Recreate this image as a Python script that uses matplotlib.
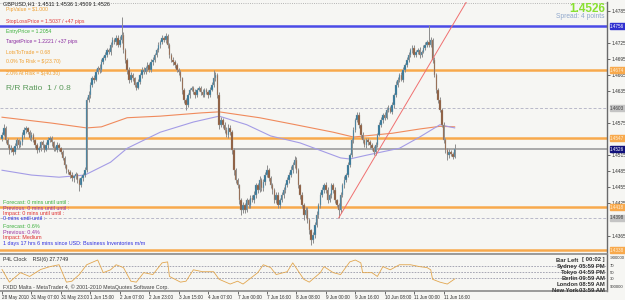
import matplotlib
matplotlib.use('Agg')
import matplotlib.pyplot as plt
import numpy as np

plt.rcParams['font.family'] = ['Liberation Sans', 'DejaVu Sans']

# ---------------- data ----------------
closes = [
    1.4553, 1.4566, 1.4543, 1.4534, 1.4525, 1.4528, 1.4521, 1.4532, 1.4543, 1.4534,
    1.4539, 1.4553, 1.4562, 1.4566, 1.4558, 1.4547, 1.4553, 1.4543, 1.4534, 1.4525,
    1.4528, 1.4539, 1.4534, 1.4525, 1.4534, 1.4543, 1.4547, 1.4539, 1.4528, 1.4525,
    1.4534, 1.4528, 1.4521, 1.4510, 1.4497, 1.4487, 1.4484, 1.4478, 1.4472, 1.4476,
    1.4480, 1.4469, 1.4459, 1.4472, 1.4478, 1.4487, 1.4618, 1.4627, 1.4646, 1.4659,
    1.4656, 1.4670, 1.4678, 1.4674, 1.4689, 1.4697, 1.4702, 1.4711, 1.4708, 1.4721,
    1.4730, 1.4726, 1.4734, 1.4721, 1.4730, 1.4739, 1.4711, 1.4693, 1.4674, 1.4656,
    1.4665, 1.4659, 1.4646, 1.4641, 1.4652, 1.4665, 1.4674, 1.4670, 1.4678, 1.4684,
    1.4674, 1.4689, 1.4693, 1.4702, 1.4711, 1.4721, 1.4726, 1.4734, 1.4730, 1.4737,
    1.4721, 1.4702, 1.4693, 1.4689, 1.4684, 1.4674, 1.4670, 1.4659, 1.4637, 1.4618,
    1.4609, 1.4627, 1.4637, 1.4641, 1.4633, 1.4627, 1.4637, 1.4641, 1.4633, 1.4627,
    1.4637, 1.4633, 1.4627, 1.4637, 1.4646, 1.4659, 1.4665, 1.4627, 1.4572, 1.4581,
    1.4572, 1.4562, 1.4553, 1.4566, 1.4558, 1.4525, 1.4487, 1.4469, 1.4459, 1.4431,
    1.4413, 1.4422, 1.4413, 1.4431, 1.4422, 1.4435, 1.4431, 1.4441, 1.4459, 1.4450,
    1.4469, 1.4454, 1.4465, 1.4478, 1.4487, 1.4472, 1.4459, 1.4450, 1.4431, 1.4441,
    1.4422, 1.4431, 1.4441, 1.4450, 1.4459, 1.4469, 1.4478, 1.4487, 1.4497, 1.4506,
    1.4487, 1.4459, 1.4441, 1.4422, 1.4403, 1.4413, 1.4394, 1.4375, 1.4357, 1.4366,
    1.4385, 1.4403, 1.4422, 1.4441, 1.4450, 1.4459, 1.4450, 1.4431, 1.4441, 1.4459,
    1.4450, 1.4431, 1.4422, 1.4413, 1.4441, 1.4459, 1.4469, 1.4478, 1.4497, 1.4515,
    1.4543, 1.4562, 1.4581, 1.4590, 1.4572, 1.4553, 1.4543, 1.4534, 1.4543, 1.4539,
    1.4534, 1.4528, 1.4521, 1.4534, 1.4553, 1.4572, 1.4581, 1.4590, 1.4585, 1.4599,
    1.4603, 1.4596, 1.4609, 1.4627, 1.4646, 1.4656, 1.4665, 1.4656, 1.4674, 1.4684,
    1.4693, 1.4702, 1.4711, 1.4715, 1.4702, 1.4708, 1.4711, 1.4702, 1.4708, 1.4715,
    1.4721, 1.4726, 1.4721, 1.4730, 1.4693, 1.4665, 1.4637, 1.4618, 1.4599, 1.4572,
    1.4543, 1.4525, 1.4515, 1.4521, 1.4518, 1.4511, 1.4526,
]
first_open = 1.4545

# wick lengths in pips (beyond the body)
upper_wick = [
    5, 8, 3, 4, 2, 6, 3, 5, 4, 3,  4, 6, 5, 3, 2, 4, 5, 3, 2, 4,
    5, 3, 4, 2, 5, 6, 4, 3, 2, 4,  5, 3, 2, 4, 3, 2, 3, 4, 5, 3,
    4, 2, 3, 5, 4, 6, 5, 8, 6, 4,  5, 6, 4, 7, 5, 4, 6, 5, 4, 6,
    5, 4, 6, 5, 7, 34, 6, 5, 4, 6, 5, 4, 3, 6, 5, 4, 6, 5, 4, 5,
    4, 5, 6, 4, 5, 6, 5, 6, 4, 6,  5, 4, 3, 5, 4, 3, 4, 5, 3, 4,
    3, 5, 4, 3, 4, 5, 4, 3, 4, 5,  4, 3, 4, 5, 6, 15, 5, 4, 6, 5,
    4, 5, 6, 7, 5, 4, 3, 5, 4, 3,  5, 6, 4, 5, 3, 6, 5, 7, 4, 5,
    8, 4, 6, 5, 9, 4, 5, 4, 3, 6,  5, 4, 6, 5, 4, 6, 5, 7, 6, 8,
    5, 4, 3, 5, 4, 6, 5, 4, 3, 6,  5, 7, 4, 6, 5, 4, 6, 5, 4, 5,
    4, 5, 3, 4, 6, 5, 7, 4, 6, 5,  5, 6, 4, 6, 5, 4, 5, 3, 4, 5,
    4, 3, 5, 6, 4, 5, 6, 4, 5, 6,  5, 4, 6, 5, 7, 5, 4, 6, 5, 4,
    6, 5, 4, 6, 5, 4, 5, 6, 4, 5,  6, 5, 32, 5, 4, 5, 3, 4, 5, 4,
    5, 4, 3, 5, 4, 3, 10,
]
lower_wick = [
    4, 3, 6, 5, 8, 4, 5, 3, 4, 5,  3, 4, 5, 6, 4, 3, 5, 4, 6, 5,
    4, 5, 6, 4, 3, 5, 4, 6, 5, 3,  4, 5, 3, 4, 6, 5, 4, 6, 5, 7,
    5, 6, 10, 4, 5, 3, 4, 3, 5, 4, 6, 3, 4, 5, 3, 4, 5, 3, 4, 5,
    3, 4, 5, 4, 3, 5, 6, 5, 7, 6,  5, 6, 4, 5, 3, 4, 5, 4, 3, 5,
    4, 3, 5, 4, 3, 4, 5, 3, 4, 5,  6, 5, 4, 5, 6, 4, 5, 6, 7, 5,
    10, 4, 5, 3, 4, 5, 4, 3, 5, 4, 3, 4, 5, 4, 3, 4, 5, 6, 8, 5,
    6, 5, 4, 6, 5, 7, 8, 6, 5, 7,  9, 5, 6, 4, 5, 6, 4, 5, 6, 5,
    4, 5, 6, 5, 4, 6, 5, 7, 6, 5,  5, 6, 4, 5, 6, 4, 5, 4, 5, 6,
    5, 6, 7, 6, 8, 5, 6, 7, 10, 6, 5, 4, 6, 5, 4, 5, 6, 5, 4, 5,
    6, 5, 4, 15, 5, 4, 5, 4, 3, 4, 4, 5, 3, 4, 6, 5, 6, 4, 5, 4,
    5, 4, 6, 5, 4, 3, 4, 5, 4, 3,  4, 3, 4, 5, 3, 4, 5, 3, 4, 3,
    4, 3, 4, 5, 4, 3, 4, 5, 4, 3,  4, 3, 4, 3, 5, 4, 6, 5, 4, 5,
    6, 5, 9, 5, 4, 3, 2,
]

ma_slow_bars = [0, 27, 46, 54, 68, 86, 108, 118, 140, 158, 180, 191, 203, 212, 227, 238, 246]
ma_slow_vals = [1.4586, 1.4575, 1.4566, 1.4568, 1.4585, 1.4588, 1.4594, 1.4596, 1.4585,
                1.4573, 1.4558, 1.4549, 1.4553, 1.4556, 1.4564, 1.4569, 1.4568]
ma_fast_bars = [0, 16, 31, 45, 59, 68, 86, 104, 118, 133, 146, 162, 184, 189, 198, 216, 227, 238, 246]
ma_fast_vals = [1.4487, 1.4478, 1.4474, 1.4478, 1.4502, 1.4528, 1.4558, 1.4577, 1.4588, 1.4572,
                1.4551, 1.4538, 1.4510, 1.4508, 1.4515, 1.4528, 1.4549, 1.4572, 1.4566]

rsi_bars = [0, 4, 10, 15, 21, 26, 31, 35, 38, 42, 46, 52, 55, 59, 62, 66, 70, 73, 77, 82,
            87, 90, 91, 97, 100, 104, 109, 115, 118, 124, 128, 131, 139, 142, 146, 149, 155,
            158, 164, 167, 173, 175, 180, 184, 189, 192, 195, 196, 201, 204, 207, 211, 216,
            222, 227, 231, 233, 234, 238, 242, 246]
rsi_vals = [58, 18, 48, 36, 58, 67, 73, 18, 21, 42, 73, 88, 48, 57, 73, 64, 21, 18, 48, 42,
            79, 82, 36, 18, 21, 57, 51, 51, 27, 12, 21, 12, 48, 73, 64, 42, 51, 79, 27, 18,
            48, 67, 48, 42, 82, 88, 79, 48, 48, 36, 67, 57, 73, 73, 67, 64, 57, 27, 18, 12, 28]
rsi_levels = [70, 50, 30]

trend_bars = [183, 253]
trend_prices = [1.4398, 1.4805]

level_prices = [1.4756, 1.4674, 1.4603, 1.4547, 1.4526, 1.4418, 1.4398, 1.4338]
level_kinds = ['blue', 'orange', 'gray_dash', 'orange', 'current', 'orange', 'gray_dash', 'orange']

# price-axis labels that stay visible beside the tags
price_ticks = [1.4785, 1.4725, 1.4695, 1.4665, 1.4635, 1.4575,
               1.4515, 1.4485, 1.4455, 1.4425, 1.4365]

time_tick_bars = [0, 16, 32, 48, 64, 80, 96, 112, 128, 144, 160, 176, 192, 208, 224, 240]
time_tick_labels = ['28 May 2010', '31 May 07:00', '31 May 23:00', '1 Jun 15:00', '2 Jun 07:00',
                    '2 Jun 23:00', '3 Jun 15:00', '4 Jun 07:00', '7 Jun 00:00', '7 Jun 16:00',
                    '8 Jun 08:00', '9 Jun 00:00', '9 Jun 16:00', '10 Jun 08:00', '11 Jun 00:00',
                    '11 Jun 16:00']

assert len(closes) == len(upper_wick) == len(lower_wick)

# ---------------- figure ----------------
W, H = 625, 300
BG = '#f6f6f3'
fig = plt.figure(figsize=(W / 100, H / 100), dpi=100)
fig.patch.set_facecolor(BG)


def fr(x0, y0, x1, y1):
    return [x0 / W, 1 - y1 / H, (x1 - x0) / W, (y1 - y0) / H]


ax = fig.add_axes(fr(0, 2, 607, 254))
ax2 = fig.add_axes(fr(0, 255, 607, 291))
for a in (ax, ax2):
    a.set_facecolor(BG)
    a.set_xlim(-1.1, 328.8)
    for s in ('left', 'top'):
        a.spines[s].set_visible(False)
    a.spines['right'].set_color('#6a6a6a')
    a.spines['right'].set_linewidth(1.0)
    a.spines['bottom'].set_color('#8a8a8a')
    a.spines['bottom'].set_linewidth(1.2)

ax.set_ylim(1.43306, 1.48011)
ax.set_xticks([])
ax.yaxis.tick_right()
ax.set_yticks(price_ticks)
ax.set_yticklabels([f'{p:.4f}' for p in price_ticks])
ax.tick_params(axis='y', labelsize=3.4, length=2, pad=1, colors='#303030', width=0.5)
ax.axhline(1.4800, color='#a0a0a0', lw=0.6, ls=':')

# horizontal levels
style = {
    'blue': dict(color='#4b4be6', lw=1.8, ls='-'),
    'orange': dict(color='#f8a94c', lw=1.8, ls='-'),
    'gray_dash': dict(color='#b9b9c9', lw=0.7, ls=(0, (3, 2))),
    'current': dict(color='#a4a4a4', lw=1.3, ls='-'),
}
box = {
    'blue': ('#3030d0', 'white'),
    'orange': ('#f8a94c', '#fff0d8'),
    'gray_dash': ('#c4c4c4', '#404040'),
    'current': ('#10107a', 'white'),
}
for p, k in zip(level_prices, level_kinds):
    ax.axhline(p, zorder=1, **style[k])

# moving averages
ax.plot(ma_slow_bars, ma_slow_vals, color='#f08a5c', lw=0.8, zorder=2)
ax.plot(ma_fast_bars, ma_fast_vals, color='#a49ce6', lw=0.8, zorder=2)

# candles
c = np.array(closes)
o = np.concatenate([[first_open], c[:-1]])
hi = np.maximum(o, c) + np.array(upper_wick) * 0.0001
lo = np.minimum(o, c) - np.array(lower_wick) * 0.0001
idx = np.arange(len(c))
ax.vlines(idx, lo, hi, color='#8c8c8c', lw=0.7, zorder=3)
bull = c >= o
body_h = np.maximum(np.abs(c - o), 0.00006)
ax.bar(idx[bull], body_h[bull], bottom=np.minimum(o, c)[bull], width=0.8,
       color='#2a7497', edgecolor='#9aa8b0', linewidth=0.25, zorder=4)
ax.bar(idx[~bull], body_h[~bull], bottom=np.minimum(o, c)[~bull], width=0.8,
       color='#8a5535', edgecolor='#b0a8a0', linewidth=0.25, zorder=4)

# trend line (ray from its anchor up to the top edge)
ax.plot(trend_bars, trend_prices, color='#f07070', lw=0.7, zorder=5)

# price tags on right axis
for p, k in zip(level_prices, level_kinds):
    fc, tc = box[k]
    ax.text(1.005, p, f'{p:.4f}', transform=ax.get_yaxis_transform(), fontsize=3.3,
            color=tc, va='center', ha='left', clip_on=False, zorder=10,
            bbox=dict(boxstyle='square,pad=0.1', fc=fc, ec=fc))

# ---------------- sub window ----------------
ax2.set_ylim(-10, 103.8)
ax2.set_yticks([])
for lv in rsi_levels:
    ax2.axhline(lv, color='#9a9aaa', lw=0.6, ls=(0, (2, 1.5)))
ax2.plot(rsi_bars, rsi_vals, color='#e2a64e', lw=0.6)
ax2.set_xticks(time_tick_bars)
ax2.set_xticklabels(time_tick_labels, ha='left')
ax2.tick_params(axis='x', labelsize=3.3, length=2, pad=1, colors='#303030', width=0.5)

# ---------------- texts ----------------
def T(x, y, s, color, size=4.2, ha='left', weight='normal'):
    fig.text(x / W, 1 - y / H, s, color=color, fontsize=size, ha=ha, va='center',
             fontweight=weight)


T(3, 4, 'GBPUSD,H1  1.4511 1.4536 1.4509 1.4526', '#202020', 4.0)
T(6, 10, 'PipValue = $1.000', '#f0a030', 3.7)
T(6, 22, 'StopLossPrice = 1.5037 / +47 pips', '#e03a3a', 3.7)
T(6, 31, 'EntryPrice = 1.2054', '#3cb03c', 3.7)
T(6, 41, 'TargetPrice = 1.2221 / +37 pips', '#8a2aa0', 3.7)
T(6, 53, 'LotsToTrade = 0.68', '#f0a030', 3.7)
T(6, 62, '0.0% To Risk = $(23.70)', '#f0a030', 3.7)
T(6, 74, '2.0% At Risk = $(40.30)', '#f0a030', 3.7)
T(6, 88, 'R/R Ratio  1 / 0.8', '#5a9a5a', 6.0)

T(3, 202, 'Forecast: 0 mins until until :', '#3cb03c', 3.9)
T(3, 208, 'Previous: 0 mins until until :', '#9a30a0', 3.9)
T(3, 213, 'Impact: 0 mins until until :', '#e03030', 3.9)
T(3, 218, '0 mins until until :', '#3030e0', 3.9)
T(3, 226, 'Forecast: 0.6%', '#3cb03c', 3.9)
T(3, 232, 'Previous: 0.4%', '#9a30a0', 3.9)
T(3, 237, 'Impact: Medium', '#e03030', 3.9)
T(3, 243, '1 days 17 hrs 6 mins since USD: Business Inventories m/m', '#3030e0', 3.9)

T(605, 9, '1.4526', '#88e030', 8.5, ha='right', weight='bold')
T(605, 17, 'Spread: 4 points', '#90a8cc', 4.8, ha='right')

T(3, 260, 'P4L Clock    RSI(6) 27.7749', '#303030', 3.8)
T(3, 287, 'FXDD Malta - MetaTrader 4, \u00a9 2001-2010 MetaQuotes Software Corp.', '#404040', 3.8)

clock_names = ['Sydney', 'Tokyo', 'Berlin', 'London', 'New York']
clock_times = ['05:59 PM', '04:59 PM', '09:59 AM', '08:59 AM', '03:59 AM']
T(578, 260, 'Bar Left', '#303030', 4.2, ha='right', weight='bold')
T(605, 260, '[ 00:02 ]', '#303030', 4.2, ha='right', weight='bold')
for i, (nm, tm) in enumerate(zip(clock_names, clock_times)):
    yy = 266.5 + 6 * i
    T(578, yy, nm, '#303030', 4.2, ha='right', weight='bold')
    T(605, yy, tm, '#303030', 4.2, ha='right', weight='bold')

for yy, s in zip([258, 266, 273, 279, 287], ['-900000', '70', '50', '30', '900000']):
    T(609.5, yy, s, '#303030', 3.0)

fig.savefig('out.png', dpi=100, facecolor=BG)
